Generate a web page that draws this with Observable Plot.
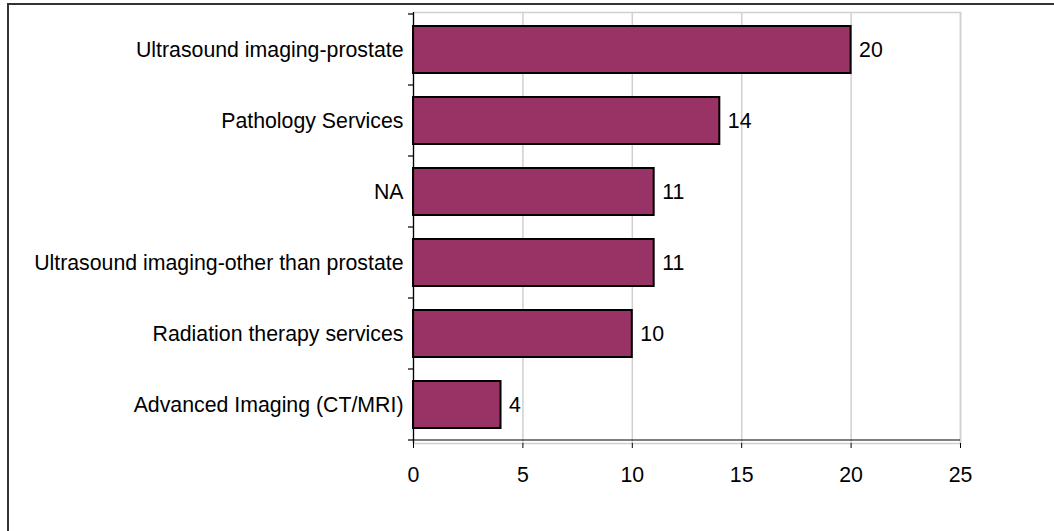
<!DOCTYPE html>
<html>
<head>
<meta charset="utf-8">
<script src="https://cdn.jsdelivr.net/npm/d3@7"></script>
<script src="https://cdn.jsdelivr.net/npm/@observablehq/plot@0.6"></script>
<style>
  html, body { margin: 0; padding: 0; background: #fff; overflow: hidden; }
  #wrap { position: relative; width: 1054px; height: 531px; }
  #border {
    position: absolute; left: 7px; top: 3px; width: 1200px; height: 700px;
    border-left: 2px solid #333; border-top: 2px solid #333; box-sizing: border-box;
  }
  #chart { position: absolute; left: 0; top: 0; }
</style>
</head>
<body>
<div id="wrap">
  <div id="border"></div>
  <div id="chart"></div>
</div>
<script>
// Services, listed top to bottom
const services = [
  "Ultrasound imaging-prostate",
  "Pathology Services",
  "NA",
  "Ultrasound imaging-other than prostate",
  "Radiation therapy services",
  "Advanced Imaging (CT/MRI)"
];
// Number of responses per service
const counts = [20, 14, 11, 11, 10, 4];
// Value axis ticks
const xTicks = [0, 5, 10, 15, 20, 25];

const rows = services.map((s, i) => ({service: s, count: counts[i]}));

const font = "'Liberation Sans', Arial, sans-serif";
const size = 21.3;

const plot = Plot.plot({
  width: 1054,
  height: 531,
  marginLeft: 413,
  marginRight: 94,
  marginTop: 12,
  marginBottom: 88,
  style: {fontFamily: font, fontSize: `${size}px`, color: "#000", background: "transparent", overflow: "visible"},
  x: {domain: [0, 25]},
  y: {domain: services, paddingInner: 1 / 3, paddingOuter: 1 / 6},
  marks: [
    Plot.frame({stroke: "#d0d0d0", strokeWidth: 1.5}),
    Plot.gridX(xTicks, {stroke: "#d0d0d0", strokeOpacity: 1, strokeWidth: 1.5}),
    Plot.barX(rows, {x: "count", y: "service", fill: "#993366", stroke: "#000", strokeWidth: 2}),
    Plot.text(rows, {x: "count", y: "service", text: d => String(d.count), textAnchor: "start", dx: 8, fill: "#000", fontSize: size}),
    Plot.ruleX([0], {stroke: "#000", strokeWidth: 1.2}),
    Plot.axisX(xTicks, {tickSize: 5, tickPadding: 18, fontSize: size, label: null, stroke: "#000"}),
    Plot.axisY({tickSize: 0, tickPadding: 10, fontSize: size, label: null})
  ]
});

// Bottom axis line and category boundary ticks on the value axis
const xs = plot.scale("x");
const ys = plot.scale("y");
const gap = ys.step - ys.bandwidth;
const left = xs.apply(0);
const right = xs.apply(25);
const bounds = services.map(s => ys.apply(s) - gap / 2);
bounds.push(ys.apply(services[services.length - 1]) + ys.bandwidth + gap / 2);
const svg = d3.select(plot);
const g = svg.append("g").attr("stroke", "#000").attr("stroke-width", 1.2);
g.append("line").attr("x1", left).attr("x2", right).attr("y1", bounds[bounds.length - 1]).attr("y2", bounds[bounds.length - 1]);
g.selectAll("line.tick").data(bounds).join("line").attr("class", "tick")
  .attr("x1", left - 5).attr("x2", left).attr("y1", d => d).attr("y2", d => d);

document.getElementById("chart").appendChild(plot);
</script>
</body>
</html>
